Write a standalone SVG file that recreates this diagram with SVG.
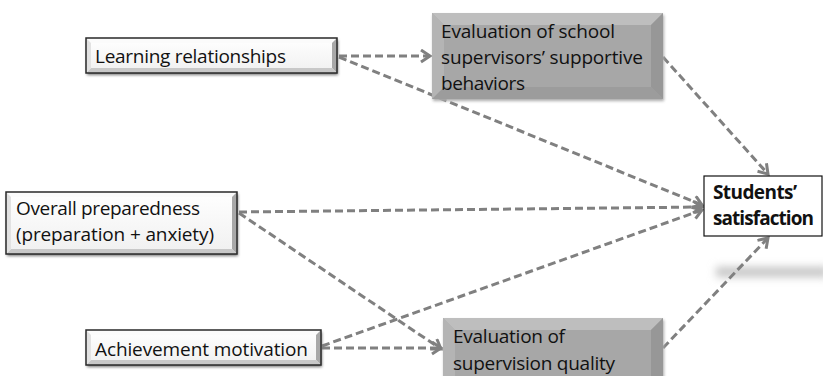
<svg xmlns="http://www.w3.org/2000/svg" width="823" height="376" viewBox="0 0 823 376">
  <defs>
    <style>
      .lbl { font-family: "Open Sans", "Liberation Sans", sans-serif; font-size: 19px; fill: #111; }
      .bold { font-weight: bold; }
      .link { fill: none; stroke: #808080; stroke-width: 3; stroke-dasharray: 8 4; }
      .plain { fill: none; stroke: #2a2a2a; stroke-width: 1.5; }
    </style>
    <marker id="chev" markerUnits="userSpaceOnUse" markerWidth="16" markerHeight="16" refX="11" refY="7" orient="auto">
      <path d="M2,1 L11,7 L2,13" fill="none" stroke="#808080" stroke-width="3"/>
    </marker>
    <linearGradient id="whiteFace" x1="0" y1="0" x2="0" y2="1">
      <stop offset="0" stop-color="#ffffff"/>
      <stop offset="1" stop-color="#f0f0f0"/>
    </linearGradient>
    <linearGradient id="grayFace" x1="0" y1="0" x2="0" y2="1">
      <stop offset="0" stop-color="#ababab"/>
      <stop offset="1" stop-color="#a2a2a2"/>
    </linearGradient>
    <filter id="soft" x="-30%" y="-200%" width="160%" height="500%">
      <feGaussianBlur stdDeviation="4"/>
    </filter>
    <filter id="drop" x="-10%" y="-10%" width="120%" height="130%">
      <feGaussianBlur stdDeviation="1.5"/>
    </filter>
  </defs>

  <!-- faint blurred bar below the outcome box -->
  <rect x="716" y="267" width="112" height="10" fill="#c4c4c4" filter="url(#soft)"/>

  <!-- connectors -->
  <g id="connectors">
    <line class="link" x1="339" y1="56" x2="430" y2="56" marker-end="url(#chev)"/>
    <line class="link" x1="339" y1="57" x2="702" y2="205" marker-end="url(#chev)"/>
    <line class="link" x1="239" y1="212" x2="702" y2="207" marker-end="url(#chev)"/>
    <line class="link" x1="239" y1="213" x2="441" y2="349" marker-end="url(#chev)"/>
    <line class="link" x1="322" y1="346" x2="702" y2="210" marker-end="url(#chev)"/>
    <line class="link" x1="322" y1="348" x2="441" y2="348" marker-end="url(#chev)"/>
    <line class="link" x1="663" y1="57" x2="768" y2="174" marker-end="url(#chev)"/>
    <line class="link" x1="663" y1="348" x2="768" y2="238" marker-end="url(#chev)"/>
  </g>

  <!-- Learning relationships -->
  <g id="learning">
    <rect x="87" y="40" width="251" height="35" fill="#777" filter="url(#drop)"/>
    <rect x="86" y="38" width="251" height="35" fill="url(#whiteFace)"/>
    <polygon points="86,38 337,38 332,43 91,43" fill="#fbfbfb"/>
    <polygon points="337,38 337,73 332,68 332,43" fill="#a8a8a8"/>
    <polygon points="86,73 337,73 332,68 91,68" fill="#c8c8c8"/>
    <polygon points="86,38 91,43 91,68 86,73" fill="#e2e2e2"/>
    <rect class="plain" x="86" y="38" width="251" height="35"/>
    <text class="lbl" x="95" y="63" textLength="191">Learning relationships</text>
  </g>

  <!-- Overall preparedness -->
  <g id="preparedness">
    <rect x="7" y="194" width="231" height="62" fill="#777" filter="url(#drop)"/>
    <rect x="6" y="192" width="231" height="62" fill="url(#whiteFace)"/>
    <polygon points="6,192 237,192 232,197 11,197" fill="#fbfbfb"/>
    <polygon points="237,192 237,254 232,249 232,197" fill="#a8a8a8"/>
    <polygon points="6,254 237,254 232,249 11,249" fill="#c8c8c8"/>
    <polygon points="6,192 11,197 11,249 6,254" fill="#e2e2e2"/>
    <rect class="plain" x="6" y="192" width="231" height="62"/>
    <text class="lbl" x="16" y="215" textLength="184">Overall preparedness</text>
    <text class="lbl" x="16" y="241" textLength="198">(preparation + anxiety)</text>
  </g>

  <!-- Achievement motivation -->
  <g id="achievement">
    <rect x="87" y="332" width="235" height="35" fill="#777" filter="url(#drop)"/>
    <rect x="86" y="330" width="235" height="35" fill="url(#whiteFace)"/>
    <polygon points="86,330 321,330 316,335 91,335" fill="#fbfbfb"/>
    <polygon points="321,330 321,365 316,360 316,335" fill="#a8a8a8"/>
    <polygon points="86,365 321,365 316,360 91,360" fill="#c8c8c8"/>
    <polygon points="86,330 91,335 91,360 86,365" fill="#e2e2e2"/>
    <rect class="plain" x="86" y="330" width="235" height="35"/>
    <text class="lbl" x="95" y="356" textLength="213">Achievement motivation</text>
  </g>

  <!-- Evaluation of school supervisors' supportive behaviors -->
  <g id="eval-school">
    <rect x="433" y="15" width="231" height="86" fill="#aaa" filter="url(#drop)"/>
    <rect x="432" y="13" width="231" height="86" fill="url(#grayFace)"/>
    <polygon points="432,13 663,13 651,25 444,25" fill="#bebebe"/>
    <polygon points="663,13 663,99 651,87 651,25" fill="#979797"/>
    <polygon points="432,99 663,99 651,87 444,87" fill="#9c9c9c"/>
    <polygon points="432,13 444,25 444,87 432,99" fill="#b4b4b4"/>
    <rect x="444" y="25" width="207" height="62" fill="#a7a7a7"/>
    <text class="lbl" x="441" y="38" textLength="174">Evaluation of school</text>
    <text class="lbl" x="441" y="64" textLength="202">supervisors’ supportive</text>
    <text class="lbl" x="441" y="90" textLength="84">behaviors</text>
  </g>

  <!-- Evaluation of supervision quality -->
  <g id="eval-quality">
    <rect x="444" y="320" width="220" height="70" fill="#aaa" filter="url(#drop)"/>
    <rect x="443" y="318" width="220" height="70" fill="url(#grayFace)"/>
    <polygon points="443,318 663,318 651,330 455,330" fill="#bebebe"/>
    <polygon points="663,318 663,388 651,376 651,330" fill="#979797"/>
    <polygon points="443,318 455,330 455,376 443,388" fill="#b4b4b4"/>
    <rect x="455" y="330" width="196" height="50" fill="#a7a7a7"/>
    <text class="lbl" x="453" y="343" textLength="112">Evaluation of</text>
    <text class="lbl" x="453" y="370" textLength="162">supervision quality</text>
  </g>

  <!-- Students' satisfaction -->
  <g id="satisfaction">
    <rect x="704" y="176" width="118" height="60" fill="#fff" stroke="#111" stroke-width="1.2"/>
    <text class="lbl bold" x="713" y="199" textLength="84">Students’</text>
    <text class="lbl bold" x="713" y="225" textLength="101">satisfaction</text>
  </g>
</svg>
